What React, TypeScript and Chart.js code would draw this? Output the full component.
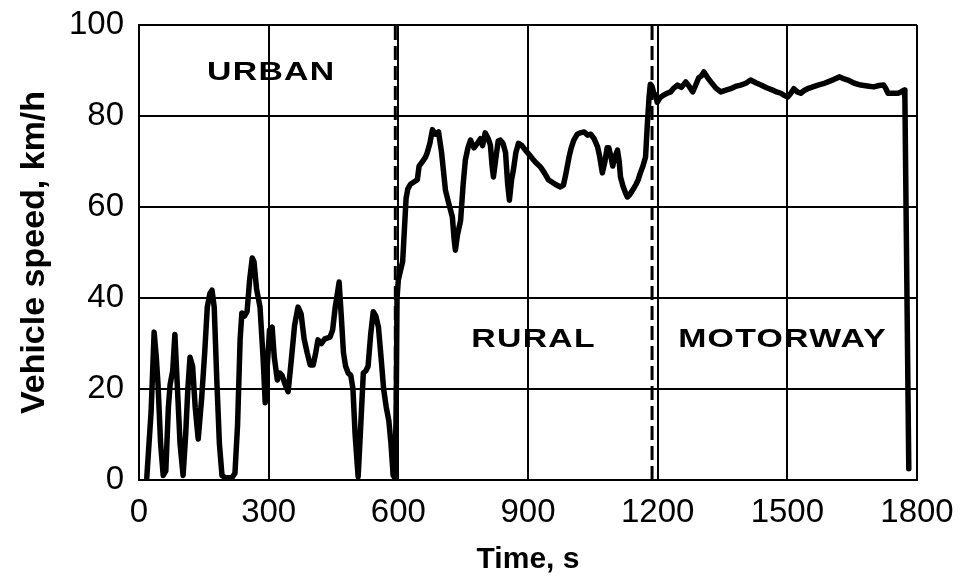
import React, { useEffect, useRef } from "react";
import { Chart, registerables } from "chart.js";

Chart.register(...registerables);

const timeS = [
  18, 28, 35, 40, 44, 50, 56, 62, 68, 72, 78, 83, 88, 95, 102, 108, 113, 118, 124, 130,
  137, 145, 152, 158, 164, 169, 174, 180, 186, 192, 200, 215, 222, 228, 234, 238, 244, 250, 256, 262,
  266, 272, 280, 287, 292, 296, 302, 308, 313, 320, 326, 331, 338, 345, 352, 360, 368, 375, 382, 389,
  396, 403, 409, 414, 422, 430, 442, 448, 454, 459, 463, 468, 473, 478, 484, 490, 495, 500, 507, 512,
  519, 525, 530, 536, 542, 548, 554, 560, 566, 572, 578, 583, 588, 592, 595, 597, 600, 605, 610, 614,
  618, 622, 628, 636, 644, 648, 656, 663, 667, 673, 679, 686, 693, 700, 709, 716, 725, 729, 732, 737,
  744, 750, 755, 761, 767, 775, 783, 790, 795, 801, 808, 813, 817, 820, 826, 831, 836, 842, 848, 853,
  857, 862, 866, 872, 878, 886, 894, 903, 913, 921, 929, 938, 947, 955, 963, 975, 982, 987, 995, 1000,
  1006, 1014, 1021, 1030, 1038, 1045, 1053, 1061, 1066, 1072, 1078, 1083, 1087, 1092, 1096, 1101, 1107, 1111, 1114, 1120,
  1126, 1130, 1136, 1144, 1150, 1155, 1160, 1166, 1172, 1176, 1180, 1183, 1187, 1191, 1195, 1199, 1205, 1214, 1222, 1230,
  1238, 1246, 1255, 1265, 1273, 1281, 1288, 1295, 1301, 1307, 1315, 1323, 1334, 1346, 1358, 1369, 1380, 1392, 1404, 1415,
  1427, 1439, 1452, 1466, 1475, 1485, 1493, 1501, 1508, 1515, 1523, 1531, 1539, 1547, 1559, 1571, 1583, 1594, 1607, 1621,
  1630, 1640, 1655, 1670, 1685, 1700, 1712, 1723, 1728, 1733, 1745, 1756, 1763, 1770, 1772, 1781,
];

const speedKmh = [
  0.5, 15, 32.5, 27, 21, 8, 1, 2, 16, 21, 24, 32, 22, 8, 1, 10, 20, 27, 25, 16,
  9, 18, 28, 38, 41, 41.7, 38, 22, 8, 1, 0.5, 0.5, 1.5, 12, 31, 36.7, 36, 37, 44, 48.8,
  48, 42, 38, 27, 17, 24, 33, 33.6, 27, 22, 23.5, 23, 21, 19.4, 26, 34, 38, 36.5, 31, 28,
  25.3, 25.3, 28, 30.8, 30, 31, 31.4, 33, 38, 41, 43.5, 36, 28, 25, 23.5, 23, 20, 10, 0.7, 10,
  23.5, 24, 25, 32, 37, 36, 33.6, 27, 20, 16, 13, 8, 1, 0.5, 15, 40, 44, 46, 48, 55,
  62, 64, 65, 65.5, 66, 69, 70, 71, 72, 74, 77, 76, 76.5, 72, 63.7, 61, 57.8, 53, 50.5, 54,
  57, 65, 70.3, 73, 74.7, 73, 74, 75, 73.5, 76.3, 75, 73.6, 69, 66.6, 71, 74.5, 74.7, 74, 72, 65,
  61.5, 66, 68, 72, 74, 73.5, 72.5, 71.5, 70.3, 69.5, 68.8, 67.5, 66, 65.5, 65, 64.4, 64.8, 67, 71, 73,
  74.7, 76, 76.3, 76.5, 75.8, 76, 75, 73.2, 71, 67.5, 70, 73, 73, 71, 69, 71, 72.5, 70, 66.6, 64.5,
  63, 62.2, 62.8, 64, 65, 66, 67.5, 69, 71, 78, 84, 87, 86.5, 85, 84.6, 83, 84, 84.6, 85, 85.3,
  86.2, 86.8, 86.3, 87.5, 86.5, 85.3, 86.8, 88.4, 88.8, 89.7, 88.5, 87.5, 86.2, 85.3, 85.7, 86, 86.5, 86.8, 87.2, 87.9,
  87.3, 86.8, 86.2, 85.7, 85.3, 85, 84.5, 84.2, 85, 86, 85.3, 85, 85.6, 86, 86.4, 86.8, 87.1, 87.5, 88, 88.6,
  88.2, 87.9, 87.2, 86.8, 86.6, 86.4, 86.7, 86.8, 86, 85, 85, 85, 85.3, 85.7, 84, 2.5,
];

const boundaryTimes = [593, 1187];
const regionNames = ["URBAN", "RURAL", "MOTORWAY"];
const regionLabelX = [306, 913, 1489];
const regionLabelY = [89.5, 30.8, 30.8];

const xTicks = [0, 300, 600, 900, 1200, 1500, 1800];
const yTicks = [0, 20, 40, 60, 80, 100];

const regionLabelPlugin = {
  id: "regionLabels",
  afterDatasetsDraw(chart: any) {
    const { ctx, scales } = chart;
    ctx.save();
    ctx.fillStyle = "#000";
    ctx.font = "bold 26px 'Liberation Sans', Arial, sans-serif";
    ctx.textAlign = "center";
    ctx.textBaseline = "middle";
    try {
      (ctx as any).letterSpacing = "1px";
    } catch (e) {}
    regionNames.forEach((name, i) => {
      const px = scales.x.getPixelForValue(regionLabelX[i]);
      const py = scales.y.getPixelForValue(regionLabelY[i]);
      ctx.save();
      ctx.translate(px, py);
      ctx.scale(1.3, 1);
      ctx.fillText(name, 0, 0);
      ctx.restore();
    });
    ctx.restore();
  },
};

export default function App() {
  const canvasRef = useRef<HTMLCanvasElement | null>(null);

  useEffect(() => {
    document.body.style.margin = "0";
    const canvas = canvasRef.current;
    if (!canvas) return;
    const tracePoints = timeS.map((t, i) => ({ x: t, y: speedKmh[i] }));
    const boundaryDatasets = boundaryTimes.map((t) => ({
      type: "line" as const,
      data: [
        { x: t, y: 0 },
        { x: t, y: 100 },
      ],
      borderColor: "#000",
      borderWidth: 3,
      borderDash: [14, 6],
      pointRadius: 0,
      fill: false,
    }));

    const chart = new Chart(canvas, {
      type: "line",
      data: {
        datasets: [
          ...boundaryDatasets,
          {
            data: tracePoints,
            borderColor: "#000",
            borderWidth: 5.5,
            borderJoinStyle: "round",
            borderCapStyle: "round",
            pointRadius: 0,
            tension: 0,
            fill: false,
          },
        ],
      },
      options: {
        animation: false,
        responsive: true,
        maintainAspectRatio: false,
        layout: { padding: { top: 25, right: 46, left: 0, bottom: 0 } },
        plugins: {
          legend: { display: false },
          tooltip: { enabled: false },
        },
        scales: {
          x: {
            type: "linear",
            min: 0,
            max: 1800,
            afterBuildTicks: (scale: any) => {
              scale.ticks = xTicks.map((v) => ({ value: v }));
            },
            afterFit: (scale: any) => {
              scale.height = 104;
              scale.paddingLeft = 0;
              scale.paddingRight = 0;
            },
            grid: { color: "#000", lineWidth: 2, drawTicks: false },
            border: { color: "#000", width: 2 },
            ticks: {
              color: "#000",
              padding: 13,
              maxRotation: 0,
              callback: (v: any) => String(v),
              font: { family: "'Liberation Sans', Arial, sans-serif", size: 33 },
            },
            title: {
              display: true,
              text: "Time, s",
              color: "#000",
              font: { family: "'Liberation Sans', Arial, sans-serif", size: 30, weight: "bold" },
              padding: { top: 0, bottom: 6 },
            },
          },
          y: {
            type: "linear",
            min: 0,
            max: 100,
            afterBuildTicks: (scale: any) => {
              scale.ticks = yTicks.map((v) => ({ value: v }));
            },
            afterFit: (scale: any) => {
              scale.width = 139;
              scale.paddingTop = 0;
              scale.paddingBottom = 0;
            },
            grid: { color: "#000", lineWidth: 2, drawTicks: false },
            border: { color: "#000", width: 2 },
            ticks: {
              color: "#000",
              padding: 15,
              callback: (v: any) => String(v),
              font: { family: "'Liberation Sans', Arial, sans-serif", size: 33 },
            },
            title: {
              display: true,
              text: "Vehicle speed, km/h",
              color: "#000",
              font: { family: "'Liberation Sans', Arial, sans-serif", size: 34, weight: "bold" },
              padding: { top: 14, bottom: 0 },
            },
          },
        },
      },
      plugins: [regionLabelPlugin],
    });
    return () => chart.destroy();
  }, []);

  return (
    <div style={{ position: "fixed", left: 0, top: 0, width: 963, height: 584, background: "#fff" }}>
      <canvas ref={canvasRef} />
    </div>
  );
}
